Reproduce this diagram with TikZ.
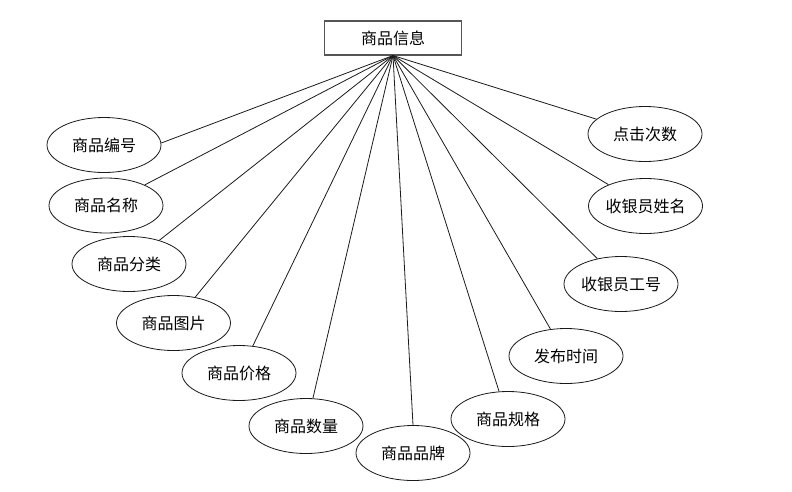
\documentclass[tikz,border=0pt]{standalone}
\usepackage{fontspec}
\newfontfamily\cjk{Noto Sans CJK SC}
\usetikzlibrary{shapes.geometric}
\definecolor{ErLine}{HTML}{1A1A1A}
\definecolor{ErBox}{HTML}{555555}
\tikzset{
  entitybox/.style={draw=ErBox,line width=1.1pt,minimum width=137pt,minimum height=34pt,inner sep=0pt,font=\cjk\fontsize{16}{19}\selectfont},
  attrbox/.style={ellipse,draw=ErLine,line width=0.8pt,minimum width=114pt,minimum height=55pt,inner sep=0pt,font=\cjk\fontsize{16}{19}\selectfont},
  attrlink/.style={line width=0.8pt,draw=ErLine}
}
\begin{document}
\begin{tikzpicture}[x=1pt,y=-1pt]
\useasboundingbox (0,0) rectangle (792,491);
\node[entitybox] (info) at (393,38) {商品信息};
\node[attrbox] (bianhao) at (104,145) {商品编号};
\node[attrbox] (mingcheng) at (106,205.5) {商品名称};
\node[attrbox] (fenlei) at (129,264) {商品分类};
\node[attrbox] (tupian) at (173.5,323) {商品图片};
\node[attrbox] (jiage) at (239,373) {商品价格};
\node[attrbox] (shuliang) at (306,426) {商品数量};
\node[attrbox] (pinpai) at (413,453) {商品品牌};
\node[attrbox] (guige) at (508,419) {商品规格};
\node[attrbox] (fabu) at (566,356) {发布时间};
\node[attrbox] (gonghao) at (621,284) {收银员工号};
\node[attrbox] (xingming) at (645.5,206) {收银员姓名};
\node[attrbox] (dianji) at (645,134) {点击次数};
\draw[attrlink] (info.south) -- (bianhao.2);
\draw[attrlink] (info.south) -- (mingcheng.28);
\draw[attrlink] (info.south) -- (fenlei.38);
\draw[attrlink] (info.south) -- (tupian.50);
\draw[attrlink] (info.south) -- (jiage.63);
\draw[attrlink] (info.south) -- (shuliang.76);
\draw[attrlink] (info.south) -- (pinpai.north);
\draw[attrlink] (info.south) -- (guige.108);
\draw[attrlink] (info.south) -- (fabu.120);
\draw[attrlink] (info.south) -- (gonghao.133);
\draw[attrlink] (info.south) -- (xingming.150);
\draw[attrlink] (info.south) -- (dianji.163);
\end{tikzpicture}
\end{document}
